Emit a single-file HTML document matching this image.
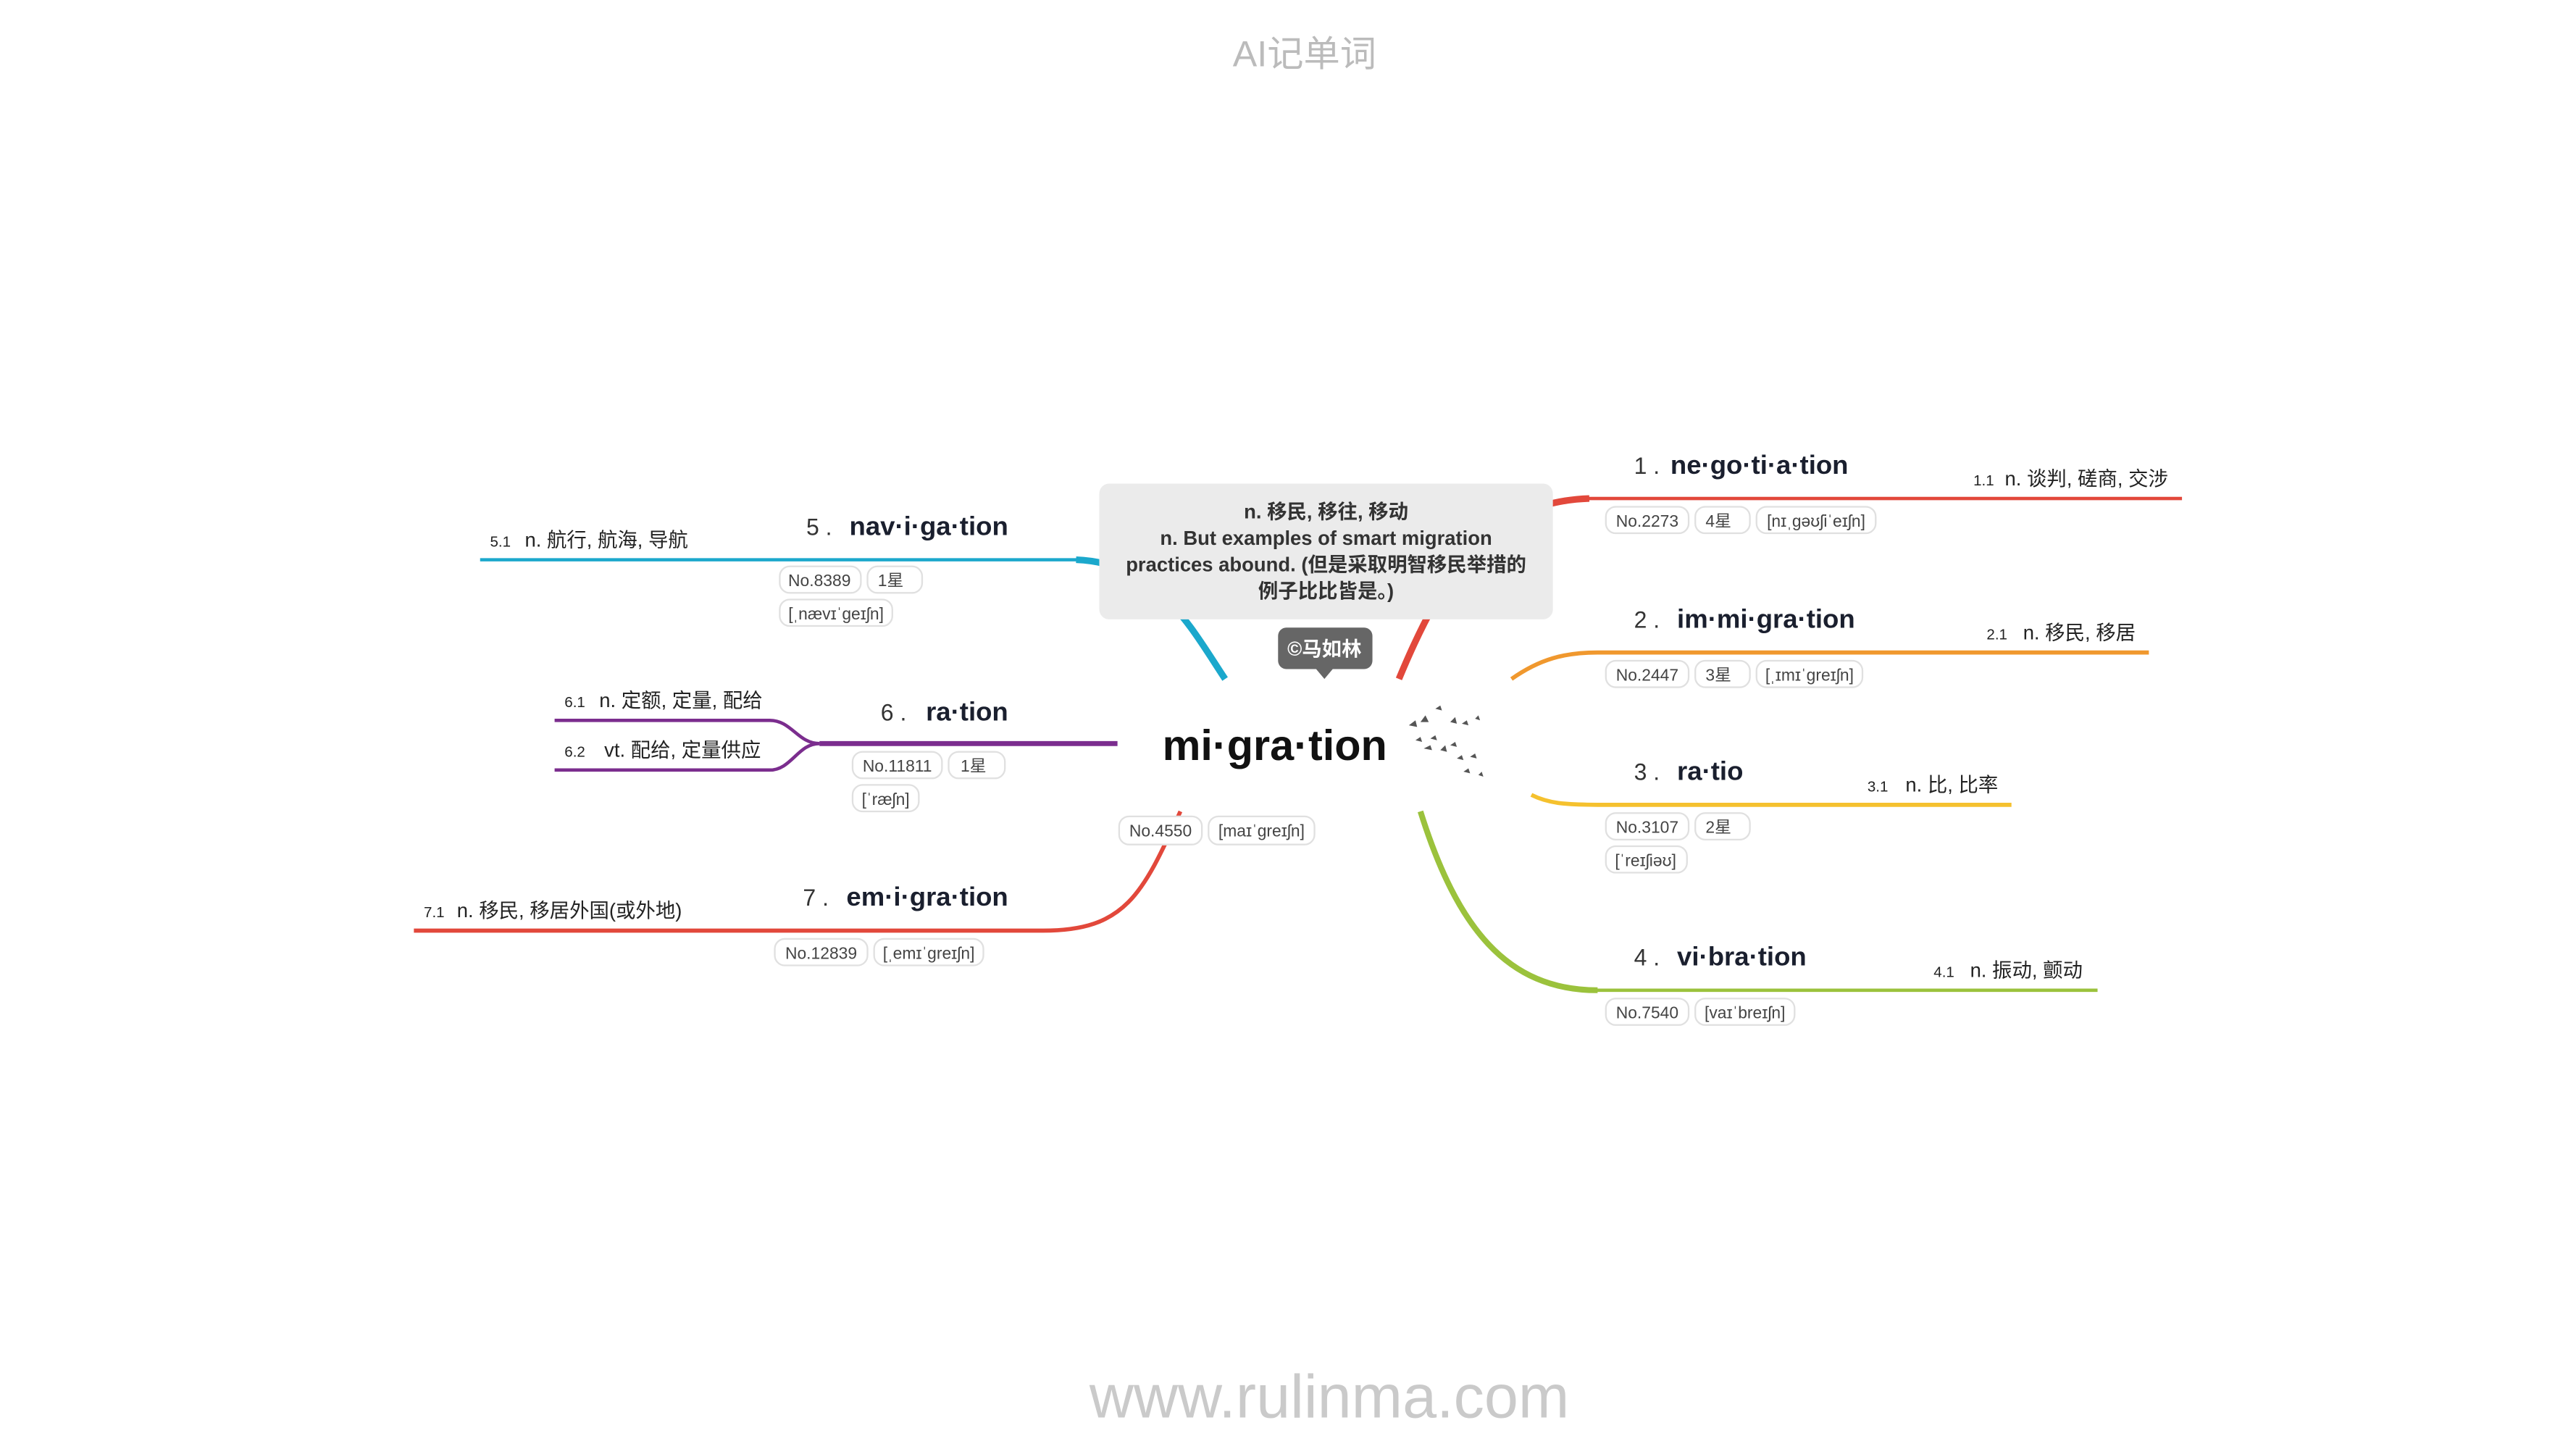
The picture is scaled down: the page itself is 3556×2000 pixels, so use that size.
<!DOCTYPE html>
<html><head><meta charset="utf-8">
<style>
html,body{margin:0;padding:0;background:#fff;}
svg{display:block;}
text{font-family:"Liberation Sans","Noto Sans CJK SC",sans-serif;}
.w{font-weight:bold;font-size:16px;fill:#1a1f2e;}
.n{font-size:14px;fill:#333;}
.s{font-size:12px;fill:#222;}
.sn{font-size:9px;fill:#222;}
.tg rect{fill:#fff;stroke:#e0e0e0;stroke-width:1;}
.tg text{font-size:10px;fill:#444;}
.br{fill:none;stroke-linecap:butt;}
</style></head>
<body>
<svg width="3556" height="2000" viewBox="0 0 1556 875" xmlns="http://www.w3.org/2000/svg">
<text x="788" y="40" text-anchor="middle" font-size="22" fill="#bbb">AI记单词</text>
<text x="803" y="856" text-anchor="middle" font-size="37" fill="#cacaca">www.rulinma.com</text>

<!-- branches -->
<g>
<path class="br" d="M845,410 C872,345 900,303 960,301" stroke="#e2483b" stroke-width="4"/>
<path class="br" d="M959,301 L1318,301" stroke="#e2483b" stroke-width="2"/>
</g>
<g>
<path class="br" d="M913,410 C930,398 945,394 965,394 L1298,394" stroke="#f0982e" stroke-width="2.5"/>
</g>
<g>
<path class="br" d="M925,480 C935,485 945,486 965,486 L1215,486" stroke="#f5c12e" stroke-width="2.5"/>
</g>
<g>
<path class="br" d="M858,490 C880,560 910,598 965,598" stroke="#9bc23c" stroke-width="3.5"/>
<path class="br" d="M964,598 L1267,598" stroke="#9bc23c" stroke-width="2"/>
</g>
<g>
<path class="br" d="M740,410 C720,380 700,340 650,338" stroke="#1ba8cc" stroke-width="4"/>
<path class="br" d="M651,338 L290,338" stroke="#1ba8cc" stroke-width="2"/>
</g>
<g>
<path class="br" d="M675,449 L495,449" stroke="#7b2d8e" stroke-width="3"/>
<path class="br" d="M495,449 C482,449 478,435 465,435 L335,435" stroke="#7b2d8e" stroke-width="2"/>
<path class="br" d="M495,449 C482,449 478,465 465,465 L335,465" stroke="#7b2d8e" stroke-width="2"/>
</g>
<g>
<path class="br" d="M713,490 C690,540 680,562 630,562 L250,562" stroke="#e2483b" stroke-width="2.5"/>
</g>

<!-- tooltip -->
<g>
<rect x="664" y="292" width="274" height="82" rx="6" fill="#ebebeb"/>
<text x="801" y="313" text-anchor="middle" font-size="12" font-weight="bold" fill="#333">n. 移民, 移往, 移动</text>
<text x="801" y="329" text-anchor="middle" font-size="12" font-weight="bold" fill="#333">n. But examples of smart migration</text>
<text x="801" y="345" text-anchor="middle" font-size="12" font-weight="bold" fill="#333">practices abound. (但是采取明智移民举措的</text>
<text x="801" y="361" text-anchor="middle" font-size="12" font-weight="bold" fill="#333">例子比比皆是。)</text>
</g>
<g>
<rect x="772" y="379" width="57" height="25" rx="5" fill="#666"/>
<path d="M795,404 L805,404 L800,410 Z" fill="#666"/>
<text x="800" y="396" text-anchor="middle" font-size="12" font-weight="bold" fill="#fff">©马如林</text>
</g>

<!-- central -->
<text x="770" y="459" text-anchor="middle" font-size="26" font-weight="bold" fill="#111">mi·gra·tion</text>
<g fill="#555">
<path d="M851,438 l4,-3 l1,4 z M858,436 l3,-4 l2,4z M867,428 l3,-2 l1,3z M876,436 l3,-3 l1,4z M883,437 l3,-2 l1,3z M891,434 l2,-2 l1,3z M855,447 l3,-2 l1,3z M860,452 l4,-2 l1,3z M870,453 l3,-3 l1,4z M876,450 l3,-2 l1,3z M880,458 l3,-2 l1,3z M888,457 l3,-2 l1,3z M884,466 l3,-2 l1,3z M893,468 l2,-2 l1,3z M864,446 l3,-2 l1,3z"/>
</g>
<g class="tg">
<rect x="676" y="493" width="50" height="17" rx="6"/><text x="701" y="505" text-anchor="middle">No.4550</text>
<rect x="730" y="493" width="64" height="17" rx="6"/><text x="762" y="505" text-anchor="middle">[maɪˈɡreɪʃn]</text>
</g>

<!-- node 1 -->
<g>
<text x="987" y="286" class="n">1 .</text><text x="1009" y="286" class="w">ne·go·ti·a·tion</text>
<text x="1192" y="293" class="sn">1.1</text><text x="1211" y="293" class="s">n. 谈判, 磋商, 交涉</text>
<g class="tg"><rect x="970" y="306" width="50" height="16" rx="6"/><text x="995" y="318" text-anchor="middle">No.2273</text>
<rect x="1024" y="306" width="33" height="16" rx="6"/><text x="1038" y="318" text-anchor="middle">4星</text>
<rect x="1061" y="306" width="72" height="16" rx="6"/><text x="1097" y="318" text-anchor="middle">[nɪˌɡəʊʃiˈeɪʃn]</text></g>
</g>
<!-- node 2 -->
<g>
<text x="987" y="379" class="n">2 .</text><text x="1013" y="379" class="w">im·mi·gra·tion</text>
<text x="1200" y="386" class="sn">2.1</text><text x="1222" y="386" class="s">n. 移民, 移居</text>
<g class="tg"><rect x="970" y="399" width="50" height="16" rx="6"/><text x="995" y="411" text-anchor="middle">No.2447</text>
<rect x="1024" y="399" width="33" height="16" rx="6"/><text x="1038" y="411" text-anchor="middle">3星</text>
<rect x="1061" y="399" width="64" height="16" rx="6"/><text x="1093" y="411" text-anchor="middle">[ˌɪmɪˈɡreɪʃn]</text></g>
</g>
<!-- node 3 -->
<g>
<text x="987" y="471" class="n">3 .</text><text x="1013" y="471" class="w">ra·tio</text>
<text x="1128" y="478" class="sn">3.1</text><text x="1151" y="478" class="s">n. 比, 比率</text>
<g class="tg"><rect x="970" y="491" width="50" height="16" rx="6"/><text x="995" y="503" text-anchor="middle">No.3107</text>
<rect x="1024" y="491" width="33" height="16" rx="6"/><text x="1038" y="503" text-anchor="middle">2星</text>
<rect x="970" y="511" width="49" height="16" rx="6"/><text x="994" y="523" text-anchor="middle">[ˈreɪʃiəʊ]</text></g>
</g>
<!-- node 4 -->
<g>
<text x="987" y="583" class="n">4 .</text><text x="1013" y="583" class="w">vi·bra·tion</text>
<text x="1168" y="590" class="sn">4.1</text><text x="1190" y="590" class="s">n. 振动, 颤动</text>
<g class="tg"><rect x="970" y="603" width="50" height="16" rx="6"/><text x="995" y="615" text-anchor="middle">No.7540</text>
<rect x="1024" y="603" width="60" height="16" rx="6"/><text x="1054" y="615" text-anchor="middle">[vaɪˈbreɪʃn]</text></g>
</g>
<!-- node 5 -->
<g>
<text x="487" y="323" class="n">5 .</text><text x="609" y="323" class="w" text-anchor="end">nav·i·ga·tion</text>
<text x="296" y="330" class="sn">5.1</text><text x="317" y="330" class="s">n. 航行, 航海, 导航</text>
<g class="tg"><rect x="471" y="342" width="49" height="16" rx="6"/><text x="495" y="354" text-anchor="middle">No.8389</text>
<rect x="524" y="342" width="33" height="16" rx="6"/><text x="538" y="354" text-anchor="middle">1星</text>
<rect x="471" y="362" width="68" height="16" rx="6"/><text x="505" y="374" text-anchor="middle">[ˌnævɪˈɡeɪʃn]</text></g>
</g>
<!-- node 6 -->
<g>
<text x="532" y="435" class="n">6 .</text><text x="609" y="435" class="w" text-anchor="end">ra·tion</text>
<text x="341" y="427" class="sn">6.1</text><text x="362" y="427" class="s">n. 定额, 定量, 配给</text>
<text x="341" y="457" class="sn">6.2</text><text x="365" y="457" class="s">vt. 配给, 定量供应</text>
<g class="tg"><rect x="515" y="454" width="54" height="16" rx="6"/><text x="542" y="466" text-anchor="middle">No.11811</text>
<rect x="573" y="454" width="34" height="16" rx="6"/><text x="588" y="466" text-anchor="middle">1星</text>
<rect x="515" y="474" width="40" height="16" rx="6"/><text x="535" y="486" text-anchor="middle">[ˈræʃn]</text></g>
</g>
<!-- node 7 -->
<g>
<text x="485" y="547" class="n">7 .</text><text x="609" y="547" class="w" text-anchor="end">em·i·gra·tion</text>
<text x="256" y="554" class="sn">7.1</text><text x="276" y="554" class="s">n. 移民, 移居外国(或外地)</text>
<g class="tg"><rect x="468" y="567" width="56" height="16" rx="6"/><text x="496" y="579" text-anchor="middle">No.12839</text>
<rect x="528" y="567" width="66" height="16" rx="6"/><text x="561" y="579" text-anchor="middle">[ˌemɪˈɡreɪʃn]</text></g>
</g>
</svg>
</body></html>
